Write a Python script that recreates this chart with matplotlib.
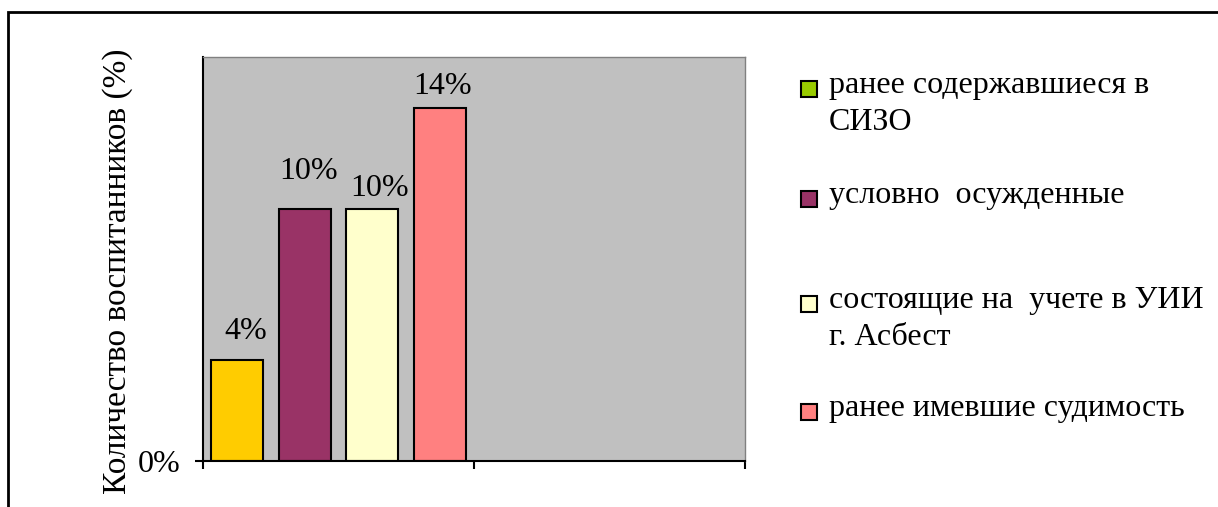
import numpy as np
import matplotlib.pyplot as plt
from matplotlib.patches import Rectangle

series = ['ранее содержавшиеся в\nСИЗО',
          'условно  осужденные',
          'состоящие на  учете в УИИ\nг. Асбест',
          'ранее имевшие судимость']
values = [4, 10, 10, 14]
value_labels = ['4%', '10%', '10%', '14%']
bar_colors = ['#FFCC00', '#993366', '#FFFFCC', '#FF8080']
legend_colors = ['#99CC00', '#993366', '#FFFFCC', '#FF8080']

fam = 'Liberation Serif'
plt.rcParams['font.family'] = [fam, 'DejaVu Serif']
fs = 23

W, H = 1218, 507
fig = plt.figure(figsize=(W / 100, H / 100), dpi=100)

# outer chart frame (right and bottom edges run off the picture)
fig.patches.append(Rectangle((8 / W, -0.1), 1.2, 1 - 12 / H + 0.1,
                             transform=fig.transFigure, fill=False,
                             edgecolor='black', linewidth=2))

ax = fig.add_axes([203 / W, 1 - 461 / H, (745 - 203) / W, (461 - 57) / H])
ax.set_facecolor('#C0C0C0')

step = 0.249
width = 0.193
x = 0.5 + (np.arange(len(values)) - 1.5) * step
ax.bar(x, values, width=width, color=bar_colors, edgecolor='black', linewidth=1.5)

# label offsets in points (Excel nudged the third one down)
offs = [(6, 10), (3, 16), (5, 4), (2, 5)]
for xi, v, lab, o in zip(x, values, value_labels, offs):
    ax.annotate(lab, (xi, v), xytext=o, textcoords='offset points',
                ha='center', va='bottom', fontsize=fs, family=fam)

ax.set_xlim(0, 2)
ax.set_ylim(0, 16)
ax.set_xticks([0, 1, 2])
ax.set_xticklabels([])
ax.set_yticks([0])
ax.set_yticklabels(['0%'], fontsize=fs, family=fam)
ax.tick_params(axis='both', direction='out', length=6, width=1.5, colors='black')
ax.tick_params(axis='y', pad=10)
for s in ['top', 'right']:
    ax.spines[s].set_color('#808080')
    ax.spines[s].set_linewidth(1)
for s in ['left', 'bottom']:
    ax.spines[s].set_linewidth(1.5)

fig.text(118 / W, 1 - 271 / H, 'Количество воспитанников (%)', rotation=90,
         ha='center', va='center', fontsize=24, family=fam)

# legend laid out by hand, entries are unevenly spaced as in the source
leg_y = [89, 199, 304, 412]
for lab, col, yy in zip(series, legend_colors, leg_y):
    fig.patches.append(Rectangle((801 / W, 1 - (yy + 8) / H), 16 / W, 16 / H,
                                 transform=fig.transFigure, facecolor=col,
                                 edgecolor='black', linewidth=1.5))
    fig.text(829 / W, 1 - (yy - 18) / H, lab, ha='left', va='top',
             fontsize=fs, linespacing=1.38, family=fam)

fig.savefig('out.png', dpi=100)
